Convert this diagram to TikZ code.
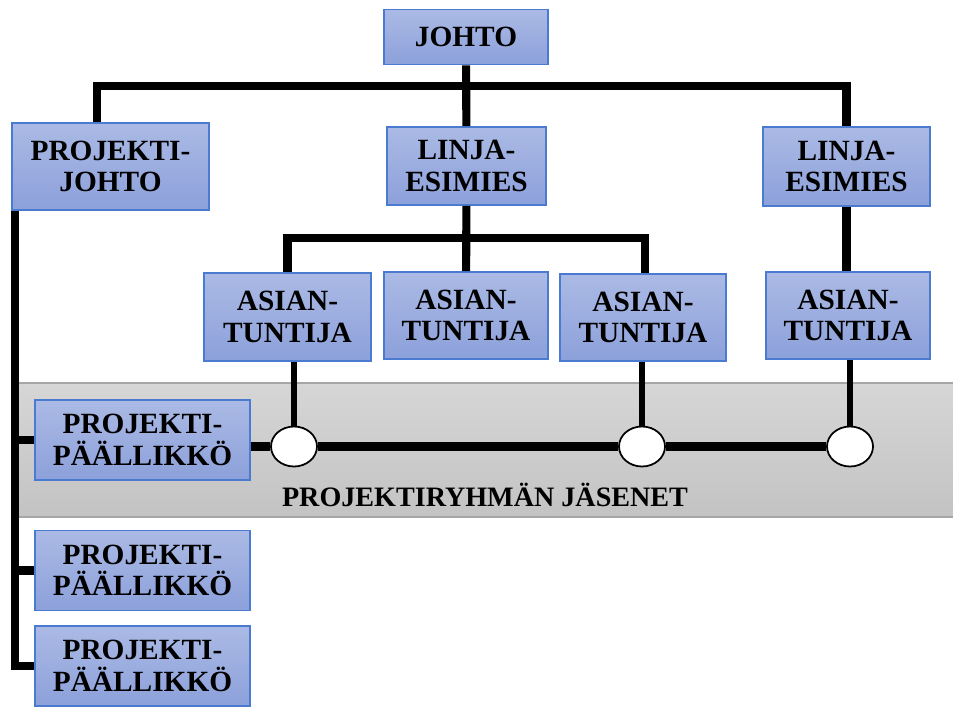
\documentclass[tikz,border=0pt]{standalone}
\usepackage{fontspec}
\setmainfont{Liberation Serif}
\usepackage{tikz}
\usetikzlibrary{positioning,shapes.geometric}
\definecolor{boxtop}{HTML}{ABBAE5}
\definecolor{boxbot}{HTML}{8CA0DA}
\definecolor{boxline}{HTML}{4A7BD0}
\definecolor{bandtop}{HTML}{D6D6D6}
\definecolor{bandbot}{HTML}{C3C3C3}
\definecolor{bandline}{HTML}{A6A6A6}
\tikzset{
  orgbox/.style={draw=boxline, line width=1pt, top color=boxtop, bottom color=boxbot, inner sep=0pt, align=center,
    font=\fontsize{16.7}{18}\selectfont\bfseries},
  wire/.style={line width=4.6pt, line join=miter},
  ring/.style={ellipse, draw, line width=1pt, fill=white, minimum width=0.92cm, minimum height=0.8cm, inner sep=0pt},
  bandlabel/.style={font=\fontsize{16}{18}\selectfont\bfseries}
}

\begin{document}
\begin{tikzpicture}
  \useasboundingbox (0,0) rectangle (19.06,-14.12);
  % grey band behind the project team
  \shade[top color=bandtop, bottom color=bandbot] (0.36,-7.66) rectangle (19.06,-10.34);
  \draw[bandline, line width=1pt] (0.36,-7.66) -- (19.06,-7.66) (0.36,-10.34) -- (19.06,-10.34);
  \node[bandlabel] (band) at (9.7,-9.9) {PROJEKTIRYHMÄN JÄSENET};

  \node[orgbox, minimum width=3.28cm, minimum height=1.1cm] (johto) at (9.32,-0.74) {JOHTO};
  \node[orgbox, minimum width=3.94cm, minimum height=1.74cm] (pjohto) at (2.21,-3.33) {PROJEKTI-\\JOHTO};
  \node[orgbox, minimum width=3.18cm, minimum height=1.56cm] (linja1) at (9.33,-3.32) {LINJA-\\ESIMIES};
  \node[orgbox, minimum width=3.34cm, minimum height=1.58cm] (linja2) at (16.93,-3.33) {LINJA-\\ESIMIES};

  \node[orgbox, minimum width=3.34cm, minimum height=1.76cm] (asi1) at (5.75,-6.34) {ASIAN-\\TUNTIJA};
  \node[orgbox, minimum width=3.28cm, minimum height=1.74cm] (asi2) at (9.32,-6.31) {ASIAN-\\TUNTIJA};
  \node[orgbox, minimum width=3.32cm, minimum height=1.74cm] (asi3) at (12.86,-6.35) {ASIAN-\\TUNTIJA};
  \node[orgbox, minimum width=3.28cm, minimum height=1.74cm] (asi4) at (16.96,-6.31) {ASIAN-\\TUNTIJA};

  \node[orgbox, minimum width=4.3cm, minimum height=1.6cm] (ppk1) at (2.85,-8.8) {PROJEKTI-\\PÄÄLLIKKÖ};
  \node[orgbox, minimum width=4.3cm, minimum height=1.6cm] (ppk2) at (2.85,-11.41) {PROJEKTI-\\PÄÄLLIKKÖ};
  \node[orgbox, minimum width=4.3cm, minimum height=1.6cm] (ppk3) at (2.85,-13.32) {PROJEKTI-\\PÄÄLLIKKÖ};

  \node[ring] (ring1) at (5.88,-8.93) {};
  \node[ring] (ring2) at (12.84,-8.93) {};
  \node[ring] (ring3) at (17.0,-8.93) {};

  % top level
  \draw[wire] (johto) -- (linja1);
  \draw[wire] ([xshift=-0.27cm]pjohto.north) -- ++(0,0.72) -| (linja2.north);
  % experts
  \draw[wire] (linja1) -- (asi2);
  \draw[wire] (asi1.north) -- ++(0,0.68) -| ([xshift=0.04cm]asi3.north);
  \draw[wire] (linja2.south) -- (linja2.south |- asi4.north);
  % project managers
  \coordinate (spine) at ([xshift=0.08cm]pjohto.south west);
  \draw[wire] (spine) |- (ppk3.west);
  \draw[wire] (ppk1.west -| spine) -- (ppk1.west);
  \draw[wire] (ppk2.west -| spine) -- (ppk2.west);
  % team line
  \draw[wire] (ppk1.east |- ring1) -- (ring1);
  \draw[wire] (ring1) -- (ring2);
  \draw[wire] (ring2) -- (ring3);
  \draw[wire, line width=3.6pt] (ring1.north |- asi1.south) -- (ring1.north);
  \draw[wire, line width=3.6pt] (ring2.north |- asi3.south) -- (ring2.north);
  \draw[wire, line width=3.6pt] (ring3.north |- asi4.south) -- (ring3.north);
\end{tikzpicture}
\end{document}
